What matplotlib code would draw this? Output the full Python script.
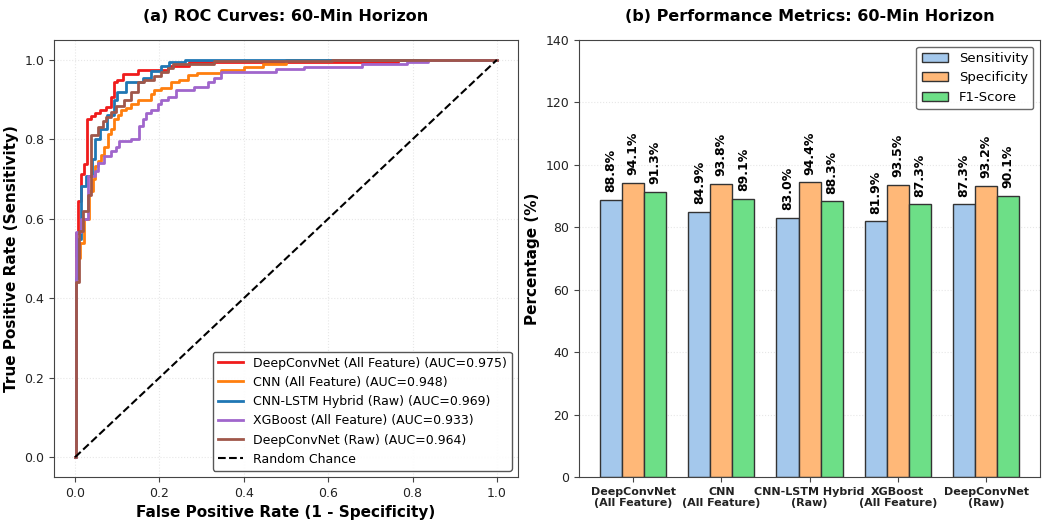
import numpy as np
import matplotlib.pyplot as plt

# ROC curves (step corners)
fpr_dcn_all = [0, .002, .008, .014, .020, .028, .038, .046, .060, .074, .085, .092, .100, .114, .149, .22, .27, .765, 1.0]
tpr_dcn_all = [0, .565, .645, .713, .738, .852, .858, .867, .873, .882, .907, .944, .950, .965, .975, .985, .994, 1.0, 1.0]

fpr_cnn_all = [0, .003, .012, .022, .034, .042, .046, .054, .062, .069, .077, .085, .093, .101, .109, .121, .133,
               .149, .180, .188, .204, .227, .247, .267, .29, .346, .40, .445, .50, 1.0]
tpr_cnn_all = [0, .50, .54, .60, .67, .70, .733, .745, .76, .78, .813, .825, .851, .862, .874, .88, .89,
               .90, .915, .924, .93, .944, .95, .962, .966, .975, .981, .99, 1.0, 1.0]

fpr_lstm_raw = [0, .003, .008, .014, .026, .040, .046, .058, .075, .093, .100, .121, .160, .180, .204, .223, .26, 1.0]
tpr_lstm_raw = [0, .45, .55, .683, .708, .75, .80, .826, .86, .90, .918, .944, .955, .973, .985, .994, 1.0, 1.0]

fpr_xgb_all = [0, .002, .014, .030, .046, .054, .069, .085, .097, .105, .133, .152, .160, .168, .180, .196, .204,
               .220, .239, .283, .314, .33, .346, .476, .543, .68, .787, .836, 1.0]
tpr_xgb_all = [0, .566, .60, .708, .72, .74, .758, .77, .78, .796, .80, .834, .851, .865, .875, .89, .90,
               .907, .924, .932, .945, .955, .970, .977, .983, .99, .994, 1.0, 1.0]

fpr_dcn_raw = [0, .003, .010, .018, .030, .038, .054, .066, .073, .085, .097, .117, .133, .149, .164, .188, .204,
               .220, .232, .33, .61, 1.0]
tpr_dcn_raw = [0, .44, .57, .62, .66, .81, .83, .845, .855, .868, .885, .90, .918, .944, .950, .96, .97,
               .98, .99, .997, 1.0, 1.0]

roc_labels = ["DeepConvNet (All Feature) (AUC=0.975)", "CNN (All Feature) (AUC=0.948)",
              "CNN-LSTM Hybrid (Raw) (AUC=0.969)", "XGBoost (All Feature) (AUC=0.933)",
              "DeepConvNet (Raw) (AUC=0.964)"]
roc_colors = ["#f01c1c", "#ff7f0e", "#1f77b4", "#a066cc", "#a0574a"]

# Performance metrics
models = ["DeepConvNet\n(All Feature)", "CNN\n(All Feature)", "CNN-LSTM Hybrid\n(Raw)",
          "XGBoost\n(All Feature)", "DeepConvNet\n(Raw)"]
sensitivity = [88.8, 84.9, 83.0, 81.9, 87.3]
specificity = [94.1, 93.8, 94.4, 93.5, 93.2]
f1_score = [91.3, 89.1, 88.3, 87.3, 90.1]

plt.rcParams['axes.edgecolor'] = '#444444'
plt.rcParams['xtick.color'] = '#444444'
plt.rcParams['ytick.color'] = '#444444'
plt.rcParams['xtick.labelcolor'] = '#222222'
plt.rcParams['ytick.labelcolor'] = '#222222'

fig = plt.figure(figsize=(10.53, 5.22), dpi=100)
ax1 = fig.add_axes([0.0513, 0.0862, 0.4406, 0.8372])
ax2 = fig.add_axes([0.5499, 0.0862, 0.4378, 0.8372])

# (a) ROC
curves = [(fpr_dcn_all, tpr_dcn_all), (fpr_cnn_all, tpr_cnn_all), (fpr_lstm_raw, tpr_lstm_raw),
          (fpr_xgb_all, tpr_xgb_all), (fpr_dcn_raw, tpr_dcn_raw)]
for (f, t), lab, c in zip(curves, roc_labels, roc_colors):
    ax1.plot(f, t, drawstyle='steps-post', color=c, lw=2, label=lab)
ax1.plot([0, 1], [0, 1], 'k--', lw=1.5, label="Random Chance")
ax1.set_xlim(-0.05, 1.05)
ax1.set_ylim(-0.05, 1.05)
ax1.set_xlabel("False Positive Rate (1 - Specificity)", fontsize=11, fontweight='bold')
ax1.set_ylabel("True Positive Rate (Sensitivity)", fontsize=11, fontweight='bold')
ax1.set_title("(a) ROC Curves: 60-Min Horizon", fontsize=11.5, fontweight='bold', pad=14)
ax1.grid(True, alpha=0.3, linestyle=':')
ax1.tick_params(labelsize=9)
ax1.legend(loc='lower right', fontsize=9, framealpha=0.9, edgecolor='#444444')

# (b) metrics
x = np.arange(len(models))
w = 0.25
series = [(sensitivity, "Sensitivity", "#a4c8ec"), (specificity, "Specificity", "#ffb878"),
          (f1_score, "F1-Score", "#6ddf87")]
for k, (vals, lab, c) in enumerate(series):
    bars = ax2.bar(x + (k - 1) * w, vals, w, label=lab, color=c, edgecolor='#333333', linewidth=1)
    for b, v in zip(bars, vals):
        ax2.text(b.get_x() + b.get_width() / 2, b.get_height() + 2.5, f"{v:.1f}%",
                 ha='center', va='bottom', rotation=90, fontsize=9, fontweight='bold')
ax2.set_ylim(0, 140)
ax2.tick_params(axis='y', labelsize=9)
ax2.set_xticks(x)
ax2.set_xticklabels(models, fontsize=8, fontweight='bold')
ax2.set_ylabel("Percentage (%)", fontsize=11, fontweight='bold')
ax2.set_title("(b) Performance Metrics: 60-Min Horizon", fontsize=11.5, fontweight='bold', pad=14)
ax2.grid(True, axis='y', alpha=0.3, linestyle=':')
ax2.set_axisbelow(True)
ax2.legend(loc='upper right', fontsize=9.5, edgecolor='#444444')

fig.savefig("out.png", dpi=100)
